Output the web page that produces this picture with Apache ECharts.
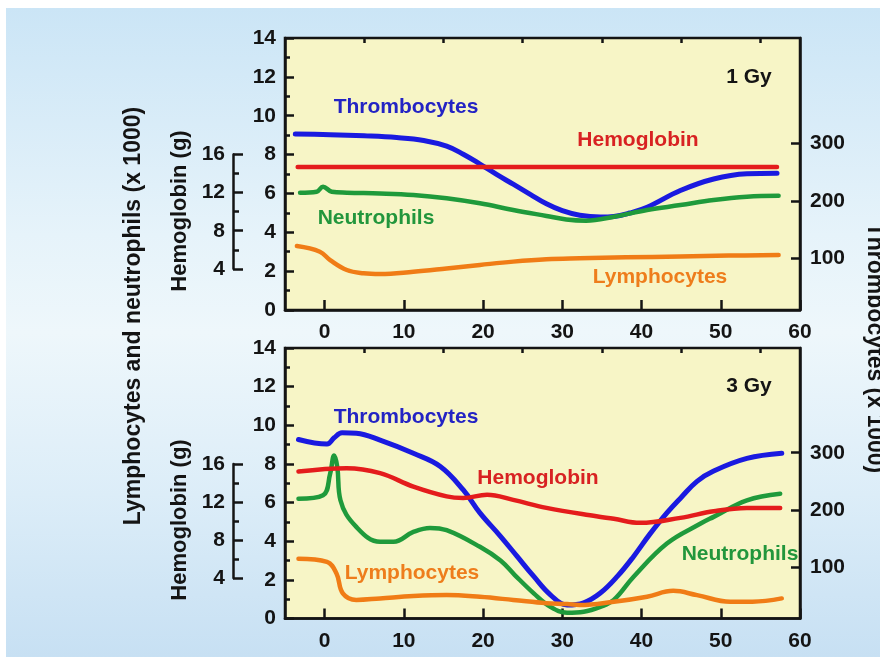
<!DOCTYPE html>
<html><head><meta charset="utf-8">
<script src="https://cdn.jsdelivr.net/npm/echarts@6/dist/echarts.min.js"></script>
<style>
html,body{margin:0;padding:0;background:#fff;}
#wrap{position:relative;width:880px;height:657px;overflow:hidden;}
#bg{position:absolute;left:6px;top:8px;width:874px;height:649px;background:linear-gradient(180deg,#cbe5f6 0%,#e6f3fa 35%,#eef7fb 50%,#dcedf8 75%,#c7e0f3 100%);}
#c{position:absolute;left:0;top:0;width:880px;height:657px;}
</style>
</head><body><div id="wrap"><div id="bg"></div><div id="c"></div></div>
<script>
// ---- tick labels ----
const xTickLabels = [0, 10, 20, 30, 40, 50, 60];
const xMinorTicks = [5, 15, 25, 35, 45, 55];
const thrTickLabels = [100, 200, 300];

// ---- 1 Gy panel ----
const thr1Days = [-3.7, 0.7, 5, 9.1, 12.5, 15.4, 17.5, 19.6, 21.7, 23.8, 26, 28, 30, 32.2, 34.8, 36.5, 38.5, 40.7, 44.9, 49.1, 53.3, 57.1];
const thr1Vals = [316, 315, 313, 310, 305, 295, 281, 264, 246, 229, 211, 195, 183, 175, 172, 173, 179, 189, 218, 238, 247, 248];
const hem1Days = [-3.4, 57.1];
const hem1Vals = [14.7, 14.7];
const neu1Days = [-3.1, -1, -0.2, 0.9, 2.8, 7, 11.2, 15.4, 19.6, 23.8, 28, 30.5, 33, 36.5, 40.7, 44.9, 49.1, 53.3, 57.3];
const neu1Vals = [6.04, 6.09, 6.35, 6.09, 6.04, 6.0, 5.92, 5.75, 5.49, 5.15, 4.84, 4.66, 4.6, 4.8, 5.15, 5.40, 5.66, 5.83, 5.88];
const lym1Days = [-3.5, -0.6, 0.7, 2.8, 4.9, 7, 11.2, 15.4, 19.6, 23.8, 28, 32.2, 38, 44.9, 51, 57.3];
const lym1Vals = [3.29, 3.0, 2.57, 2.06, 1.89, 1.85, 1.97, 2.14, 2.32, 2.49, 2.61, 2.66, 2.71, 2.75, 2.8, 2.83];

// ---- 3 Gy panel ----
const thr3Days = [-3.3, 0.3, 1.2, 2.2, 4, 7, 11.2, 14.6, 17.5, 19.6, 22.2, 24.3, 26.4, 28.5, 30.6, 32.7, 34.8, 37, 39, 41, 43.2, 45, 47, 49.1, 53.3, 57.7];
const thr3Vals = [323, 315, 326, 335, 334, 322, 299, 276, 235, 195, 154, 119, 84, 52, 34, 38, 55, 85, 119, 157, 195, 222, 250, 268, 290, 299];
const hem3Days = [-3.3, 2.8, 7, 11.2, 15.4, 17.5, 20.5, 23.8, 28, 34.3, 36.5, 39.8, 44.9, 49.1, 53.3, 57.5];
const hem3Vals = [15.19, 15.55, 15.02, 13.6, 12.57, 12.4, 12.74, 12.2, 11.35, 10.46, 10.2, 9.77, 10.3, 11.0, 11.35, 11.35];
const neu3Days = [-3.3, -0.2, 0.7, 1.2, 1.6, 2.0, 4, 7, 8.7, 11.2, 13.3, 15.4, 19.6, 22.2, 24, 26.4, 28.5, 30.6, 32.7, 34.8, 36.5, 39, 43.2, 47.4, 49.1, 53.3, 57.5];
const neu3Vals = [6.2, 6.38, 7.5, 8.44, 7.84, 6.12, 4.74, 3.97, 3.97, 4.48, 4.69, 4.57, 3.71, 3.0, 2.25, 1.3, 0.6, 0.3, 0.35, 0.6, 0.96, 2.16, 3.88, 4.9, 5.26, 6.12, 6.46];
const lym3Days = [-3.3, 0.3, 1.5, 2.3, 4, 7, 11.2, 15.4, 19.6, 23.8, 28, 30.6, 32.2, 36.5, 40.7, 44, 47, 51.2, 54, 57.7];
const lym3Vals = [3.09, 2.93, 2.33, 1.3, 0.96, 1.04, 1.16, 1.21, 1.12, 0.96, 0.79, 0.75, 0.70, 0.87, 1.13, 1.43, 1.21, 0.87, 0.87, 1.04];

const zip = (a, b) => a.map((d, i) => [d, b[i]]);
const FONT = 'Liberation Sans, Arial, sans-serif';
const INK = '#141414';
const C = { thr: '#1a1ae0', hem: '#e41c1c', neu: '#1f9a3b', lym: '#f07c16' };
const T = { thr: '#2323c4', hem: '#d82222', neu: '#22963c', lym: '#ee7d1c' };

const lbl = { fontFamily: FONT, fontWeight: 'bold', fontSize: 21, color: INK };

function mainGrid(top, height) {
  return { left: 285, top: top, width: 515, height: height, show: true,
    backgroundColor: '#f7f5c6', borderColor: INK, borderWidth: 2.5, outerBoundsMode: 'none' };
}
function xMain(gi) {
  return { type: 'value', gridIndex: gi, min: -5, max: 60, interval: 5,
    axisLine: { show: true, onZero: false, lineStyle: { color: INK, width: 2.5 } },
    axisTick: { show: true, inside: true, length: 10, customValues: xTickLabels, lineStyle: { color: INK, width: 2.5 } },
    axisLabel: Object.assign({ margin: 12, customValues: xTickLabels, formatter: v => (v % 10 === 0 ? String(v) : '') }, lbl),
    splitLine: { show: false } };
}
function xMinor(gi) {
  return { type: 'value', gridIndex: gi, min: -5, max: 60, interval: 5,
    axisLine: { show: false, onZero: false },
    axisTick: { show: true, inside: true, length: 5, customValues: xMinorTicks, lineStyle: { color: INK, width: 2.5 } },
    axisLabel: { show: false }, splitLine: { show: false } };
}
function yLeft(gi) {
  return { type: 'value', gridIndex: gi, position: 'left', min: 0, max: 14, interval: 2,
    axisLine: { show: true, onZero: false, lineStyle: { color: INK, width: 2.5 } },
    axisTick: { show: true, inside: true, length: 9, lineStyle: { color: INK, width: 2.5 } },
    minorTick: { show: true, splitNumber: 2, length: 5, lineStyle: { color: INK, width: 2.5 } },
    axisLabel: Object.assign({ margin: 9 }, lbl),
    splitLine: { show: false }, minorSplitLine: { show: false } };
}
function yThr(gi) {
  return { type: 'value', gridIndex: gi, position: 'right', min: 10.6, max: 482.8,
    axisLine: { show: true, onZero: false, lineStyle: { color: INK, width: 2.5 } },
    axisTick: { show: true, inside: true, length: 9, customValues: thrTickLabels, lineStyle: { color: INK, width: 2.5 } },
    axisLabel: Object.assign({ margin: 10, customValues: thrTickLabels }, lbl),
    splitLine: { show: false } };
}
function yHem(gi) {
  return { type: 'value', gridIndex: gi, show: false, min: -0.33, max: 28.24, splitLine: { show: false } };
}
function yBracket(gi) {
  return { type: 'value', gridIndex: gi, position: 'left', min: 4, max: 16, interval: 4,
    axisLine: { show: true, onZero: false, lineStyle: { color: INK, width: 2.5 } },
    axisTick: { show: true, inside: true, length: 10, lineStyle: { color: INK, width: 2.5 } },
    minorTick: { show: true, splitNumber: 2, length: 6, lineStyle: { color: INK, width: 2.5 } },
    axisLabel: Object.assign({ margin: 8 }, lbl),
    splitLine: { show: false }, minorSplitLine: { show: false } };
}
function line(name, xi, yi, data, color, w) {
  return { name: name, type: 'line', xAxisIndex: xi, yAxisIndex: yi, data: data, smooth: 0.4,
    symbol: 'none', silent: true, lineStyle: { color: color, width: w || 4.5, cap: 'round', join: 'round' }, itemStyle: { color: color } };
}
function txt(text, x, y, color, size, rot) {
  return { type: 'text', x: x, y: y, rotation: rot || 0, z: 100, silent: true,
    style: { text: text, fill: color, font: 'bold ' + size + 'px ' + FONT, textAlign: 'center', textVerticalAlign: 'middle' } };
}

const option = {
  animation: false,
  grid: [mainGrid(38, 272), mainGrid(348, 270.5),
    { left: 233, top: 154.6, width: 10, height: 114.2, show: false, outerBoundsMode: 'none' },
    { left: 233, top: 463.9, width: 10, height: 114, show: false, outerBoundsMode: 'none' }],
  xAxis: [xMain(0), xMain(1), xMinor(0), xMinor(1),
    { type: 'value', gridIndex: 2, show: false, min: 0, max: 1 },
    { type: 'value', gridIndex: 3, show: false, min: 0, max: 1 }],
  yAxis: [yLeft(0), yThr(0), yHem(0), yLeft(1), yThr(1), yHem(1), yBracket(2), yBracket(3)],
  series: [
    line('Thrombocytes 1 Gy', 0, 1, zip(thr1Days, thr1Vals), C.thr, 5),
    line('Neutrophils 1 Gy', 0, 0, zip(neu1Days, neu1Vals), C.neu),
    line('Hemoglobin 1 Gy', 0, 2, zip(hem1Days, hem1Vals), C.hem),
    line('Lymphocytes 1 Gy', 0, 0, zip(lym1Days, lym1Vals), C.lym),
    line('Thrombocytes 3 Gy', 1, 4, zip(thr3Days, thr3Vals), C.thr, 5),
    line('Neutrophils 3 Gy', 1, 3, zip(neu3Days, neu3Vals), C.neu),
    line('Hemoglobin 3 Gy', 1, 5, zip(hem3Days, hem3Vals), C.hem),
    line('Lymphocytes 3 Gy', 1, 3, zip(lym3Days, lym3Vals), C.lym)
  ],
  graphic: [
    txt('1 Gy', 749, 77, INK, 21),
    txt('3 Gy', 749, 386, INK, 21),
    txt('Thrombocytes', 406, 107, T.thr, 21),
    txt('Hemoglobin', 638, 140, T.hem, 21),
    txt('Neutrophils', 376, 218, T.neu, 21),
    txt('Lymphocytes', 660, 277, T.lym, 21),
    txt('Thrombocytes', 406, 417, T.thr, 21),
    txt('Hemoglobin', 538, 478, T.hem, 21),
    txt('Lymphocytes', 412, 573, T.lym, 21),
    txt('Neutrophils', 740, 554, T.neu, 21),
    txt('Lymphocytes and neutrophils (x 1000)', 134, 316, INK, 23, Math.PI / 2),
    txt('Hemoglobin (g)', 180, 211, INK, 22, Math.PI / 2),
    txt('Hemoglobin (g)', 180, 520, INK, 22, Math.PI / 2),
    txt('Thrombocytes (x 1000)', 874, 348, INK, 23, -Math.PI / 2)
  ]
};
const chart = echarts.init(document.getElementById('c'), null, { renderer: 'canvas' });
chart.setOption(option);
</script>
</body></html>
